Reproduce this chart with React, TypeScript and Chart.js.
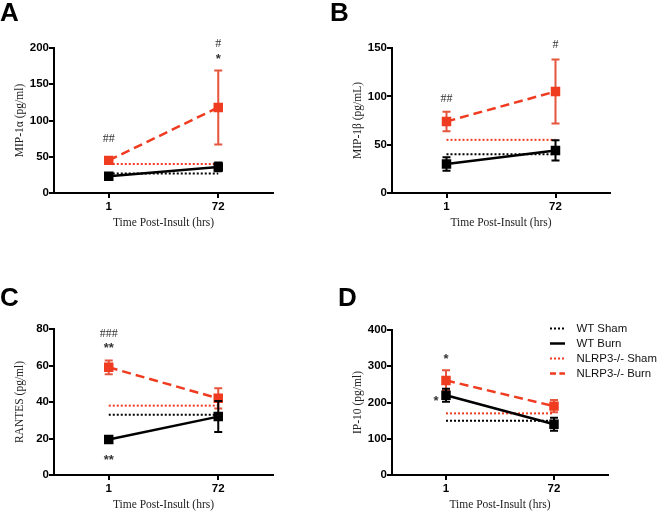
import React, { useEffect, useRef } from 'react';
import { Chart, registerables } from 'chart.js';

Chart.register(...registerables);

// ---------- data ----------
const TIMES = ['1', '72'];
const SERIES_LABELS = ['WT Sham', 'WT Burn', 'NLRP3-/- Sham', 'NLRP3-/- Burn'];
const X_TITLE = 'Time Post-Insult (hrs)';

// Panel A: MIP-1α
const A_Y_TICKS = [0, 50, 100, 150, 200];
const A_WT_SHAM = 27;
const A_KO_SHAM = 40;
const A_WT_BURN = [23, 36];
const A_WT_BURN_ERR = [3, 6];
const A_KO_BURN = [45, 118];
const A_KO_BURN_ERR = [4, 51];
const A_MARKS = [
  { at: '1', y: 76, text: '##' },
  { at: '72', y: 207, text: '#' },
  { at: '72', y: 190, text: '*' },
];

// Panel B: MIP-1β
const B_Y_TICKS = [0, 50, 100, 150];
const B_WT_SHAM = 40;
const B_KO_SHAM = 55;
const B_WT_BURN = [30, 44];
const B_WT_BURN_ERR = [7, 10.5];
const B_KO_BURN = [74, 105];
const B_KO_BURN_ERR = [10, 33];
const B_MARKS = [
  { at: '1', y: 99, text: '##' },
  { at: '72', y: 154, text: '#' },
];

// Panel C: RANTES
const C_Y_TICKS = [0, 20, 40, 60, 80];
const C_WT_SHAM = 33;
const C_KO_SHAM = 38;
const C_WT_BURN = [19.5, 32];
const C_WT_BURN_ERR = [1, 8.5];
const C_KO_BURN = [59, 42];
const C_KO_BURN_ERR = [3.8, 5.6];
const C_MARKS = [
  { at: '1', y: 78, text: '###' },
  { at: '1', y: 71.5, text: '**' },
  { at: '1', y: 10.4, text: '**' },
];

// Panel D: IP-10
const D_Y_TICKS = [0, 100, 200, 300, 400];
const D_WT_SHAM = 150;
const D_KO_SHAM = 170;
const D_WT_BURN = [220, 140];
const D_WT_BURN_ERR = [18, 18];
const D_KO_BURN = [261, 190];
const D_KO_BURN_ERR = [28, 17];
const D_MARKS = [
  { at: '1', y: 330, text: '*' },
  { at: '1', y: 214, text: '*', dx: -10 },
];

// ---------- styles ----------
const BLACK = '#000000';
const RED = '#EF3B1F';
const RED_ERR = '#E6553D';
const SANS = '"Liberation Sans", Arial, sans-serif';
const SERIF = '"Liberation Serif", "Times New Roman", serif';
const X_AXIS_H = 37;

type Mark = { at: string; y: number; text: string; dx?: number };
type Spec = {
  letter: string;
  letterPos: { x: number; y: number };
  box: { x: number; y: number; w: number; h: number };
  area: { l: number; t: number; r: number; b: number };
  yTitle: string;
  yTicks: number[];
  wtSham: number;
  koSham: number;
  wtBurn: number[];
  wtBurnErr: number[];
  koBurn: number[];
  koBurnErr: number[];
  marks: Mark[];
  legend: boolean;
};

const PANELS: Spec[] = [
  {
    letter: 'A', letterPos: { x: 0, y: 21 },
    box: { x: 0, y: 0, w: 330, h: 256 },
    area: { l: 54, t: 48, r: 273, b: 193 },
    yTitle: 'MIP-1α (pg/ml)', yTicks: A_Y_TICKS,
    wtSham: A_WT_SHAM, koSham: A_KO_SHAM,
    wtBurn: A_WT_BURN, wtBurnErr: A_WT_BURN_ERR,
    koBurn: A_KO_BURN, koBurnErr: A_KO_BURN_ERR,
    marks: A_MARKS, legend: false,
  },
  {
    letter: 'B', letterPos: { x: 0, y: 21 },
    box: { x: 330, y: 0, w: 329, h: 256 },
    area: { l: 62, t: 48, r: 280, b: 193 },
    yTitle: 'MIP-1β (pg/mL)', yTicks: B_Y_TICKS,
    wtSham: B_WT_SHAM, koSham: B_KO_SHAM,
    wtBurn: B_WT_BURN, wtBurnErr: B_WT_BURN_ERR,
    koBurn: B_KO_BURN, koBurnErr: B_KO_BURN_ERR,
    marks: B_MARKS, legend: false,
  },
  {
    letter: 'C', letterPos: { x: 0, y: 50 },
    box: { x: 0, y: 256, w: 330, h: 256 },
    area: { l: 54, t: 73, r: 273, b: 219 },
    yTitle: 'RANTES (pg/ml)', yTicks: C_Y_TICKS,
    wtSham: C_WT_SHAM, koSham: C_KO_SHAM,
    wtBurn: C_WT_BURN, wtBurnErr: C_WT_BURN_ERR,
    koBurn: C_KO_BURN, koBurnErr: C_KO_BURN_ERR,
    marks: C_MARKS, legend: false,
  },
  {
    letter: 'D', letterPos: { x: 8, y: 50 },
    box: { x: 330, y: 256, w: 329, h: 256 },
    area: { l: 62, t: 74, r: 278, b: 219 },
    yTitle: 'IP-10 (pg/ml)', yTicks: D_Y_TICKS,
    wtSham: D_WT_SHAM, koSham: D_KO_SHAM,
    wtBurn: D_WT_BURN, wtBurnErr: D_WT_BURN_ERR,
    koBurn: D_KO_BURN, koBurnErr: D_KO_BURN_ERR,
    marks: D_MARKS, legend: true,
  },
];

function Panel({ spec }: { spec: Spec }) {
  const ref = useRef<HTMLCanvasElement | null>(null);

  useEffect(() => {
    const canvas = ref.current;
    if (!canvas) return;
    const p = spec;
    const sq = 6.7;

    const datasets: any[] = [
      {
        label: SERIES_LABELS[0], data: [p.wtSham, p.wtSham],
        borderColor: BLACK, borderWidth: 2, borderDash: [2, 2], pointRadius: 0,
      },
      {
        label: SERIES_LABELS[1], data: p.wtBurn, err: p.wtBurnErr, errColor: BLACK,
        borderColor: BLACK, borderWidth: 2.5, pointStyle: 'rect', pointRadius: sq,
        pointBackgroundColor: BLACK, pointBorderWidth: 0,
      },
      {
        label: SERIES_LABELS[2], data: [p.koSham, p.koSham],
        borderColor: RED, borderWidth: 2, borderDash: [2, 2], pointRadius: 0,
      },
      {
        label: SERIES_LABELS[3], data: p.koBurn, err: p.koBurnErr, errColor: RED_ERR,
        borderColor: RED, borderWidth: 2.5, borderDash: [9, 5], pointStyle: 'rect', pointRadius: sq,
        pointBackgroundColor: RED, pointBorderWidth: 0,
      },
    ];

    const extras = {
      id: 'extras',
      beforeDatasetDraw(chart: any, args: any) {
        const ds = chart.data.datasets[args.index];
        if (!ds.err) return;
        const ys = chart.scales.y;
        const ctx = chart.ctx;
        ctx.save();
        ctx.strokeStyle = ds.errColor;
        ctx.lineWidth = 2;
        ctx.setLineDash([]);
        args.meta.data.forEach((pt: any, i: number) => {
          const v = ds.data[i];
          const e = ds.err[i];
          const top = ys.getPixelForValue(v + e);
          const bot = ys.getPixelForValue(v - e);
          ctx.beginPath();
          ctx.moveTo(pt.x, top);
          ctx.lineTo(pt.x, bot);
          ctx.moveTo(pt.x - 4, top);
          ctx.lineTo(pt.x + 4, top);
          ctx.moveTo(pt.x - 4, bot);
          ctx.lineTo(pt.x + 4, bot);
          ctx.stroke();
        });
        ctx.restore();
      },
      afterDraw(chart: any) {
        const ctx = chart.ctx;
        const xs = chart.scales.x;
        const ys = chart.scales.y;
        ctx.save();
        // panel letter
        ctx.fillStyle = '#000';
        ctx.font = `bold 26px ${SANS}`;
        ctx.textAlign = 'left';
        ctx.textBaseline = 'alphabetic';
        ctx.fillText(p.letter, p.letterPos.x, p.letterPos.y);
        // significance marks
        ctx.fillStyle = '#333';
        ctx.textAlign = 'center';
        p.marks.forEach((m) => {
          const x = xs.getPixelForValue(TIMES.indexOf(m.at)) + (m.dx || 0);
          const y = ys.getPixelForValue(m.y);
          if (m.text.indexOf('*') >= 0) {
            const size = 13;
            ctx.font = `bold ${size}px ${SANS}`;
            ctx.fillText(m.text, x, y + 0.58 * size);
          } else {
            const size = 12;
            ctx.font = `${size}px ${SERIF}`;
            ctx.fillText(m.text, x, y + 0.35 * size);
          }
        });
        // legend
        if (p.legend) {
          const x0 = 220;
          const x1 = 235;
          const tx = 246.5;
          const y0 = 72.5;
          const step = 15;
          ctx.textAlign = 'left';
          ctx.textBaseline = 'middle';
          ctx.font = `11.4px ${SANS}`;
          chart.data.datasets.forEach((ds: any, i: number) => {
            const y = y0 + i * step;
            ctx.strokeStyle = ds.borderColor;
            ctx.lineWidth = ds.borderWidth;
            const dash = (ds.borderDash || []).map((d: number) => (d > 2 ? d * 0.67 : d));
            ctx.setLineDash(dash);
            ctx.beginPath();
            ctx.moveTo(x0, y);
            ctx.lineTo(x1, y);
            ctx.stroke();
            ctx.setLineDash([]);
            ctx.fillStyle = '#111';
            ctx.fillText(ds.label, tx, y);
          });
        }
        ctx.restore();
      },
    };

    const axisGrid = { drawOnChartArea: false, drawTicks: true, color: BLACK, lineWidth: 2, tickLength: 5 };
    const axisBorder = { color: BLACK, width: 2 };
    const tickFont = { family: SANS, size: 11.5, weight: 'bold' as const };
    const titleFont = { family: SERIF, size: 11.5 };

    const chart = new Chart(canvas, {
      type: 'line',
      data: { labels: TIMES, datasets },
      plugins: [extras],
      options: {
        animation: false,
        responsive: false,
        devicePixelRatio: 1,
        events: [],
        layout: {
          padding: {
            left: 0,
            top: p.area.t,
            right: p.box.w - p.area.r,
            bottom: p.box.h - p.area.b - X_AXIS_H,
          },
        },
        plugins: {
          legend: { display: false },
          tooltip: { enabled: false },
        },
        elements: { line: { tension: 0 } },
        scales: {
          x: {
            type: 'category',
            offset: true,
            afterFit: (s: any) => { s.height = X_AXIS_H; },
            border: axisBorder,
            grid: axisGrid,
            ticks: { color: BLACK, font: tickFont, padding: 2, maxRotation: 0 },
            title: {
              display: true, text: X_TITLE, color: '#222', font: titleFont,
              padding: { top: 0, bottom: 0 },
            },
          },
          y: {
            min: 0,
            max: p.yTicks[p.yTicks.length - 1],
            afterBuildTicks: (s: any) => { s.ticks = p.yTicks.map((v) => ({ value: v })); },
            afterFit: (s: any) => { s.width = p.area.l; },
            border: axisBorder,
            grid: axisGrid,
            ticks: { color: BLACK, font: tickFont, padding: 0 },
            title: {
              display: true, text: p.yTitle, color: '#222', font: titleFont,
              padding: { top: p.area.l - 34 - 6.9, bottom: 0 },
            },
          },
        },
      } as any,
    });

    return () => chart.destroy();
  }, [spec]);

  return (
    <canvas
      ref={ref}
      width={spec.box.w}
      height={spec.box.h}
      style={{
        position: 'absolute',
        left: spec.box.x,
        top: spec.box.y,
        width: spec.box.w,
        height: spec.box.h,
      }}
    />
  );
}

export default function App() {
  return (
    <div
      style={{
        position: 'fixed',
        left: 0,
        top: 0,
        width: 659,
        height: 512,
        background: '#fff',
        overflow: 'hidden',
      }}
    >
      {PANELS.map((p) => (
        <Panel key={p.letter} spec={p} />
      ))}
    </div>
  );
}
